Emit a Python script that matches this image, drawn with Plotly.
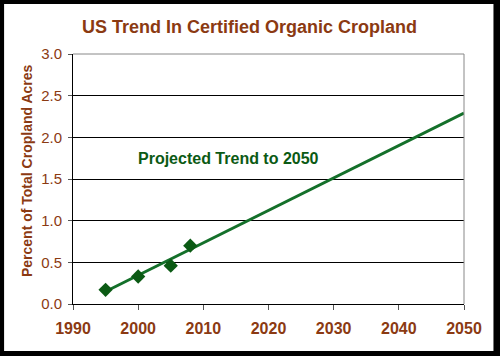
import plotly.graph_objects as go

years = [1995, 2000, 2005, 2008]
percent = [0.17, 0.33, 0.46, 0.70]
trend_years = [1995, 2050]
trend_values = [0.15, 2.29]
x_ticks = [1990, 2000, 2010, 2020, 2030, 2040, 2050]
y_ticks = [0.0, 0.5, 1.0, 1.5, 2.0, 2.5, 3.0]

BROWN = "#8B3A12"
GREEN_M = "#0B5A14"
GREEN_L = "#14702A"

fig = go.Figure()
fig.add_trace(go.Scatter(x=trend_years, y=trend_values, mode="lines",
                         line=dict(color=GREEN_L, width=3), hoverinfo="skip"))
fig.add_trace(go.Scatter(x=years, y=percent, mode="markers",
                         marker=dict(symbol="diamond", size=11, color=GREEN_M)))

L, R, T, B = 73, 35.5, 54, 52
W, H = 500, 356
pw, ph = W - L - R, H - T - B

def px_x(p):
    return (p - L) / pw

def px_y(p):
    return (H - B - p) / ph

shapes = [
    dict(type="rect", xref="paper", yref="paper", x0=px_x(4), x1=px_x(494),
         y0=px_y(351), y1=px_y(4), fillcolor="white", line=dict(width=0), layer="below"),
    dict(type="line", xref="paper", yref="paper", x0=0, x1=1, y0=1, y1=1,
         line=dict(color="#888888", width=1)),
    dict(type="line", xref="paper", yref="paper", x0=1, x1=1, y0=0, y1=1,
         line=dict(color="#888888", width=1)),
]

fig.update_layout(
    width=W, height=H,
    margin=dict(l=L, r=R, t=T, b=B),
    paper_bgcolor="black",
    plot_bgcolor="white",
    showlegend=False,
    shapes=shapes,
    font=dict(family="Arial, Liberation Sans", color=BROWN),
    xaxis=dict(range=[1990, 2050], tickvals=x_ticks, showgrid=False,
               showline=True, linecolor="black", linewidth=1,
               ticks="outside", ticklen=5, tickcolor="#555555",
               ticklabelstandoff=5,
               tickfont=dict(size=16, color=BROWN, weight="bold"),
               zeroline=False, fixedrange=True),
    yaxis=dict(range=[0, 3], tickvals=y_ticks, tickformat=".1f",
               showgrid=True, gridcolor="black", gridwidth=1,
               showline=True, linecolor="black", linewidth=1,
               ticks="outside", ticklen=4, tickcolor="#555555",
               ticklabelstandoff=3,
               tickfont=dict(size=15, color=BROWN),
               zeroline=False, fixedrange=True),
    annotations=[
        dict(text="US Trend In Certified Organic Cropland", xref="paper", yref="paper",
             x=px_x(249.5), y=px_y(27), showarrow=False, xanchor="center", yanchor="middle",
             font=dict(size=18, color=BROWN, weight="bold")),
        dict(text="Percent of Total Cropland Acres", xref="paper", yref="paper",
             x=px_x(27), y=px_y(171), showarrow=False, textangle=-90,
             xanchor="center", yanchor="middle",
             font=dict(size=14, color=BROWN, weight="bold")),
        dict(text="Projected Trend to 2050", xref="x", yref="y",
             x=2013.9, y=1.75, showarrow=False, xanchor="center", yanchor="middle",
             font=dict(size=16, color="#0B5A14", weight="bold")),
    ],
)

fig.write_html("out.html", config={"displayModeBar": False})

with open("out.html", "r", encoding="utf-8") as f:
    html = f.read()
html = html.replace("<head>", "<head><style>html,body{margin:0;padding:0;background:black;}</style>", 1)
with open("out.html", "w", encoding="utf-8") as f:
    f.write(html)
